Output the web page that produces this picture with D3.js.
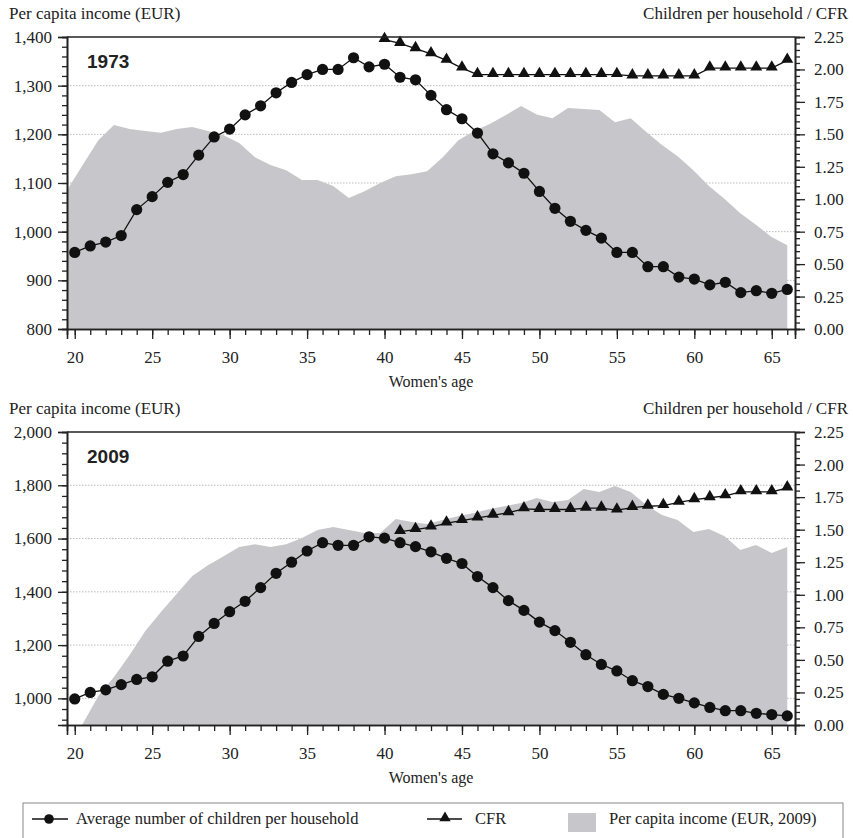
<!DOCTYPE html>
<meta charset="utf-8">
<style>
body { margin: 0; background: #fff; }
text { font-family: "Liberation Serif", "Times New Roman", serif; fill: #222; }
.grid line { stroke: #aaa; stroke-dasharray: 1.5 1.5; stroke-width: 0.8px; }
.axis path, .axis line { stroke: #222; }
</style>
<body>
<svg width="853" height="838"></svg>

<script src="https://d3js.org/d3.v7.min.js"></script>
<script>

// women's age categories
var ages = [20,21,22,23,24,25,26,27,28,29,30,31,32,33,34,35,36,37,38,39,40,41,42,43,
            44,45,46,47,48,49,50,51,52,53,54,55,56,57,58,59,60,61,62,63,64,65,66];
var xTicks = [20,25,30,35,40,45,50,55,60,65];

// 1973 panel
var income1973 = [1085,1137,1188,1219,1211,1207,1203,1211,1215,1207,1198,1182,1153,1137,1126,1106,
                  1106,1094,1069,1083,1100,1114,1118,1124,1153,1188,1207,1221,1239,1258,1241,1233,
                  1254,1252,1250,1225,1233,1205,1178,1155,1126,1094,1067,1038,1014,989,972];
var children1973 = [0.59,0.64,0.67,0.72,0.92,1.02,1.13,1.19,1.34,1.48,1.54,1.65,1.72,1.82,1.90,1.96,
                    2.00,2.00,2.09,2.02,2.04,1.94,1.92,1.80,1.69,1.62,1.51,1.35,1.28,1.20,1.06,0.93,
                    0.83,0.76,0.70,0.59,0.59,0.48,0.48,0.40,0.385,0.34,0.36,0.28,0.295,0.275,0.305];
var cfr1973 = [null,null,null,null,null,null,null,null,null,null,null,null,null,null,null,null,
               null,null,null,null,2.23,2.20,2.16,2.12,2.07,2.01,1.96,1.96,1.96,1.96,1.96,1.96,
               1.96,1.96,1.96,1.96,1.95,1.95,1.95,1.95,1.95,2.01,2.01,2.01,2.01,2.01,2.07];
var incomeTicks1973 = [800,900,1000,1100,1200,1300,1400];

// 2009 panel
var income2009 = [810,904,1009,1080,1163,1253,1324,1392,1459,1500,1534,1568,1579,1568,1579,1602,
                  1632,1643,1632,1621,1621,1673,1662,1655,1670,1685,1696,1711,1722,1733,1752,1737,
                  1745,1786,1775,1797,1775,1726,1688,1670,1625,1636,1609,1557,1576,1546,1568];
var children2009 = [0.20,0.25,0.27,0.31,0.35,0.37,0.49,0.53,0.68,0.78,0.87,0.95,1.055,1.165,1.25,1.336,
                    1.40,1.38,1.38,1.445,1.435,1.40,1.37,1.33,1.28,1.24,1.14,1.055,0.955,0.88,0.79,0.725,
                    0.635,0.54,0.465,0.415,0.34,0.295,0.235,0.205,0.17,0.135,0.11,0.11,0.09,0.08,0.07];
var cfr2009 = [null,null,null,null,null,null,null,null,null,null,null,null,null,null,null,null,
               null,null,null,null,null,1.485,1.50,1.52,1.55,1.57,1.59,1.61,1.63,1.66,1.655,1.655,
               1.655,1.665,1.665,1.65,1.67,1.68,1.685,1.71,1.73,1.745,1.76,1.79,1.79,1.79,1.82];
var incomeTicks2009 = [1000,1200,1400,1600,1800,2000];

var rightTicks = [0,0.25,0.5,0.75,1,1.25,1.5,1.75,2,2.25];

var svg = d3.select("svg");
var left = 67, right = 795;
var areaColor = "#c7c7cb";

var x = d3.scaleLinear().domain([19.5, 66.5]).range([left, right]);
// the income area is spread from the left edge to the last age
var xa = d3.scaleLinear().domain([20, 66]).range([x(19.5), x(66)]);

function serif(s, size) {
  s.selectAll("text").style("font-size", size).style("font-family", "Liberation Serif").attr("fill", "#222");
}

function panel(top, bottom, year, yDomain, yTicks, minorStart, yMinor, income, children, cfr, id) {
  var g = svg.append("g");
  var y = d3.scaleLinear().domain(yDomain).range([bottom, top]);
  var y2 = d3.scaleLinear().domain([0, 2.25]).range([bottom, top]);

  svg.append("clipPath").attr("id", id)
    .append("rect").attr("x", left).attr("y", top)
    .attr("width", right - left).attr("height", bottom - top);

  // grid
  g.append("g").attr("class", "grid")
    .selectAll("line").data(yTicks.filter(function(d){ return d > yDomain[0] && d < yDomain[1]; }))
    .enter().append("line")
      .attr("x1", left).attr("x2", right)
      .attr("y1", function(d){ return y(d); }).attr("y2", function(d){ return y(d); });

  // income area
  var area = d3.area()
    .x(function(d, i){ return xa(ages[i]); })
    .y0(bottom)
    .y1(function(d){ return y(d); });
  g.append("path").datum(income)
    .attr("clip-path", "url(#" + id + ")")
    .attr("fill", areaColor)
    .attr("d", area);

  // children line
  var line = d3.line()
    .defined(function(d){ return d != null; })
    .x(function(d, i){ return x(ages[i]); })
    .y(function(d){ return y2(d); });

  g.append("path").datum(children)
    .attr("fill", "none").attr("stroke", "#111").attr("stroke-width", 1.3)
    .attr("d", line);
  g.append("g").selectAll("circle").data(children).enter().append("circle")
    .attr("cx", function(d, i){ return x(ages[i]); })
    .attr("cy", function(d){ return y2(d); })
    .attr("r", 5.6).attr("fill", "#111");

  g.append("path").datum(cfr)
    .attr("fill", "none").attr("stroke", "#111").attr("stroke-width", 1.3)
    .attr("d", line);
  var tri = d3.symbol().type(d3.symbolTriangle).size(62);
  g.append("g").selectAll("path")
    .data(cfr.map(function(d, i){ return [ages[i], d]; }).filter(function(d){ return d[1] != null; }))
    .enter().append("path")
      .attr("d", tri)
      .attr("fill", "#111")
      .attr("transform", function(d){ return "translate(" + x(d[0]) + "," + (y2(d[1]) - 1) + ")"; });

  // frame
  g.append("line").attr("x1", left).attr("x2", right).attr("y1", top).attr("y2", top)
    .attr("stroke", "#222").attr("stroke-width", 1.5);

  // axes: minor ticks first, then major
  var minorY = d3.range(minorStart, yDomain[1] + 0.1, yMinor);
  g.append("g").attr("class", "axis").attr("transform", "translate(" + left + ",0)")
    .call(d3.axisLeft(y).tickValues(minorY).tickSize(5).tickFormat(""));
  g.append("g").attr("class", "axis").attr("transform", "translate(" + left + ",0)")
    .call(d3.axisLeft(y).tickValues(yTicks).tickSize(9).tickPadding(6).tickFormat(d3.format(",")))
    .call(serif, "17px");

  g.append("g").attr("class", "axis").attr("transform", "translate(" + right + ",0)")
    .call(d3.axisRight(y2).tickValues(d3.range(0, 2.26, 0.05)).tickSize(5).tickFormat(""));
  g.append("g").attr("class", "axis").attr("transform", "translate(" + right + ",0)")
    .call(d3.axisRight(y2).tickValues(rightTicks).tickSize(10).tickPadding(9).tickFormat(d3.format(".2f")))
    .call(serif, "17px");

  g.append("g").attr("class", "axis").attr("transform", "translate(0," + bottom + ")")
    .call(d3.axisBottom(x).tickValues(ages).tickSize(6).tickFormat(""));
  g.append("g").attr("class", "axis").attr("transform", "translate(0," + bottom + ")")
    .call(d3.axisBottom(x).tickValues(xTicks).tickSize(10).tickPadding(12))
    .call(serif, "17px");
  g.selectAll(".axis path.domain").attr("stroke-width", 1.6);
  g.selectAll(".axis .tick line").attr("stroke-width", 1.3);

  // labels
  g.append("text").attr("x", 9).attr("y", top - 18).style("font-size", "17px")
    .text("Per capita income (EUR)");
  g.append("text").attr("x", 848).attr("y", top - 18).attr("text-anchor", "end").style("font-size", "17px")
    .text("Children per household / CFR");
  g.append("text").attr("x", (left + right) / 2).attr("y", bottom + 58).attr("text-anchor", "middle")
    .style("font-size", "16px").text("Women's age");
  g.append("text").attr("x", 87).attr("y", top + 31)
    .style("font-family", "Liberation Sans").style("font-weight", "bold").style("font-size", "19px")
    .text(year);
}

panel(37, 329, "1973", [800, 1400], incomeTicks1973, 800, 20, income1973, children1973, cfr1973, "c1");
panel(432, 725, "2009", [900, 2000], incomeTicks2009, 920, 40, income2009, children2009, cfr2009, "c2");

// legend
var lg = svg.append("g");
lg.append("rect").attr("x", 23).attr("y", 803).attr("width", 820).attr("height", 45)
  .attr("fill", "none").attr("stroke", "#888").attr("stroke-width", 1);
lg.append("line").attr("x1", 32).attr("x2", 68).attr("y1", 819).attr("y2", 819)
  .attr("stroke", "#111").attr("stroke-width", 1.3);
lg.append("circle").attr("cx", 49).attr("cy", 819).attr("r", 4.8).attr("fill", "#111");
lg.append("text").attr("x", 76).attr("y", 824).style("font-size", "16.5px")
  .text("Average number of children per household");
lg.append("line").attr("x1", 427).attr("x2", 462).attr("y1", 819).attr("y2", 819)
  .attr("stroke", "#111").attr("stroke-width", 1.3);
lg.append("path").attr("d", d3.symbol().type(d3.symbolTriangle).size(55))
  .attr("transform", "translate(445,818)").attr("fill", "#111");
lg.append("text").attr("x", 475).attr("y", 824).style("font-size", "16.5px").text("CFR");
lg.append("rect").attr("x", 568).attr("y", 813).attr("width", 28).attr("height", 19).attr("fill", areaColor);
lg.append("text").attr("x", 609).attr("y", 824).style("font-size", "16.5px")
  .text("Per capita income (EUR, 2009)");

</script>
</body>
